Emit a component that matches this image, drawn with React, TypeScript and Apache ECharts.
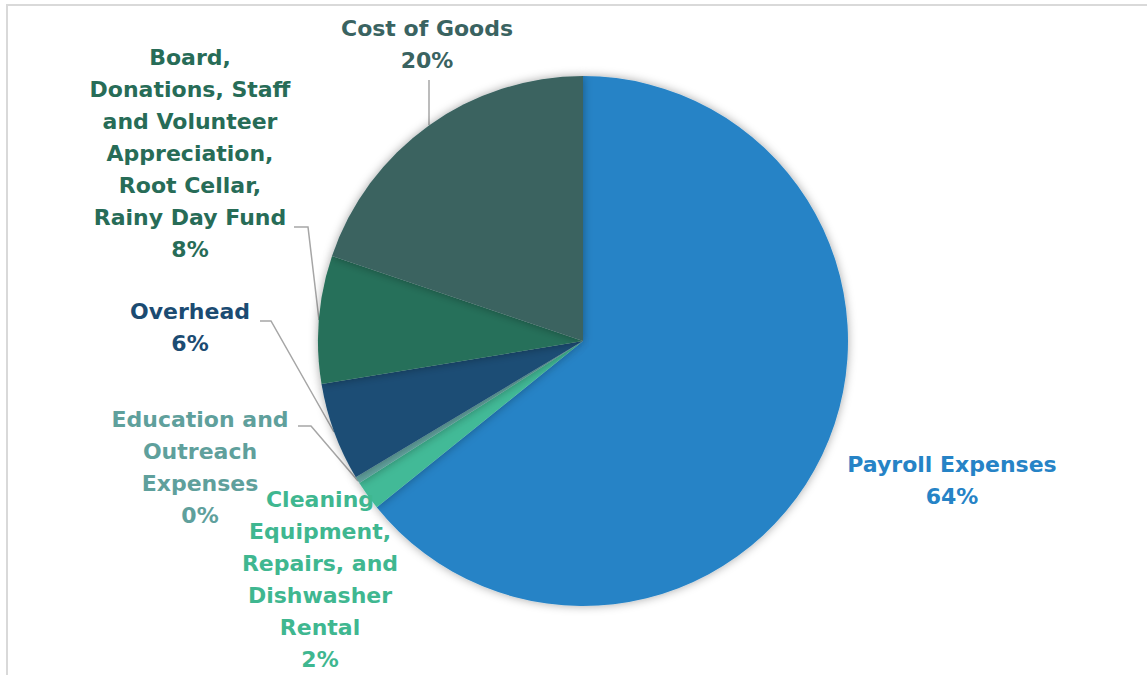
import React, { useEffect, useRef } from "react";
import * as echarts from "echarts";

const CATEGORIES = [
  "Payroll Expenses",
  "Cleaning\nEquipment,\nRepairs, and\nDishwasher\nRental",
  "Education and\nOutreach\nExpenses",
  "Overhead",
  "Board,\nDonations, Staff\nand Volunteer\nAppreciation,\nRoot Cellar,\nRainy Day Fund",
  "Cost of Goods",
];
const VALUES = [64.2, 1.8, 0.4, 6.0, 7.8, 19.8];
const COLORS = ["#2683C6", "#42BA97", "#62A39F", "#1C4E74", "#27705A", "#3A6361"];
const LABEL_COLORS = ["#2683C6", "#3FB790", "#5FA09C", "#1B4B72", "#276C57", "#3A6361"];

// label layout (centres of label blocks) and leader lines
const LABEL_POS: [number, number][] = [
  [952, 480],
  [320, 579],
  [200, 467],
  [190, 327],
  [190, 153],
  [427, 44],
];
const LEADERS: ([number, number][] | null)[] = [
  null,
  null,
  [[298, 426], [311, 426], [358, 481]],
  [[260, 321], [271, 321], [334, 432]],
  [[294, 227], [308, 227], [319, 320]],
  [[429, 80], [429, 80], [429, 125]],
];

export default function App() {
  const ref = useRef<HTMLDivElement>(null);
  useEffect(() => {
    document.body.style.margin = "0";
    if (!ref.current) return;
    const chart = echarts.init(ref.current, null, { renderer: "svg" });
    const total = VALUES.reduce((a, b) => a + b, 0);
    chart.setOption({
      animation: false,
      backgroundColor: "#ffffff",
      graphic: [
        {
          type: "rect",
          shape: { x: 7, y: 5, width: 1200, height: 700 },
          style: { fill: "none", stroke: "#d9d9d9", lineWidth: 2 },
          silent: true,
        },
      ],
      series: [
        {
          type: "pie",
          center: [583, 341],
          radius: [0, 265],
          startAngle: 90,
          clockwise: true,
          avoidLabelOverlap: false,
          itemStyle: {
            borderWidth: 0,
            shadowBlur: 10,
            shadowColor: "rgba(0,0,0,0.35)",
          },
          label: {
            show: true,
            fontFamily: "DejaVu Sans",
            fontWeight: "bold",
            fontSize: 22,
            lineHeight: 32,
            align: "center",
            formatter: (p: any) => `${p.name}\n${Math.round((p.value / total) * 100)}%`,
          },
          labelLine: {
            show: true,
            lineStyle: { color: "#a6a6a6", width: 1.5 },
          },
          labelLayout: (params: any) => {
            const i = params.dataIndex;
            const pos = LABEL_POS[i];
            const out: any = {
              x: pos[0],
              y: pos[1],
              align: "center",
              verticalAlign: "middle",
            };
            if (LEADERS[i]) out.labelLinePoints = LEADERS[i];
            return out;
          },
          data: CATEGORIES.map((name, i) => ({
            name,
            value: VALUES[i],
            itemStyle: { color: COLORS[i] },
            label: { color: LABEL_COLORS[i] },
            labelLine: { show: LEADERS[i] !== null },
          })),
        },
      ],
    });
    return () => chart.dispose();
  }, []);
  return <div ref={ref} style={{ width: 1147, height: 675 }} />;
}
